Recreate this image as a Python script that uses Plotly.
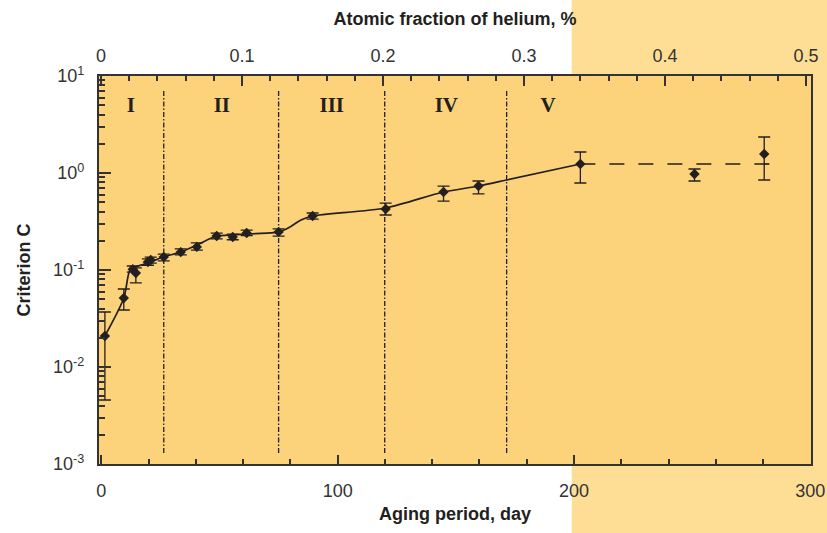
import plotly.graph_objects as go

# Measured criterion C versus aging period
days = [1.5, 9.5, 13.3, 14.6, 19.7, 20.9, 26.4, 33.6, 40.4, 48.8, 55.6, 61.5,
        75.0, 89.4, 120.3, 144.8, 159.6, 202.7, 251.0, 280.5]
crit_c = [0.0209, 0.0514, 0.102, 0.093, 0.121, 0.127, 0.136, 0.153, 0.173, 0.224,
          0.219, 0.241, 0.247, 0.360, 0.425, 0.637, 0.734, 1.238, 0.976, 1.57]
err_hi = [0.0369, 0.0637, 0.110, 0.105, 0.130, 0.136, 0.146, 0.165, 0.190, 0.240,
          0.234, 0.258, 0.265, 0.387, 0.490, 0.734, 0.827, 1.646, 1.10, 2.35]
err_lo = [0.00457, 0.0387, 0.095, 0.0735, 0.112, 0.118, 0.124, 0.143, 0.160, 0.209,
          0.205, 0.226, 0.224, 0.335, 0.369, 0.514, 0.608, 0.789, 0.827, 0.847]

# Smoothed trend through the data
fit_days = [1.5, 9.5, 12.1, 14.2, 19.7, 26.0, 33.6, 40.4, 48.8, 55.6, 61.5, 71.2,
            75.0, 80.0, 84.5, 89.4, 120.3, 144.8, 159.6, 171.5, 202.7]
fit_c = [0.0209, 0.0514, 0.100, 0.107, 0.118, 0.136, 0.153, 0.181, 0.224, 0.230,
         0.235, 0.241, 0.247, 0.280, 0.328, 0.360, 0.436, 0.637, 0.734, 0.847, 1.238]

# Saturation level
plateau_days = [202.7, 285.6]
plateau_c = [1.238, 1.238]

# Stage boundaries and labels
stage_bounds = [26.4, 75.0, 119.9, 171.5]
stage_labels = ["I", "II", "III", "IV", "V"]
stage_label_days = [12.5, 51.0, 97.5, 146.0, 189.0]
stage_label_c = 4.8

x_ticks = [0, 100, 200, 300]
he_ticks = [0, 0.1, 0.2, 0.3, 0.4, 0.5]
he_tick_text = ["0", "0.1", "0.2", "0.3", "0.4", "0.5"]
y_ticks = [1e-3, 1e-2, 1e-1, 1, 10]
y_tick_text = ["10<sup>-3</sup>", "10<sup>-2</sup>", "10<sup>-1</sup>",
               "10<sup>0</sup>", "10<sup>1</sup>"]
y_minor = [m * 10.0 ** e for e in range(-3, 1) for m in range(2, 10)]

INK = "#231f20"
AXIS = "#333333"
PLOT_BG = "#fcd27a"
BAND = "#fedd95"
FONT = "Liberation Sans, Arial, sans-serif"

fig = go.Figure()

for b in stage_bounds:
    fig.add_trace(go.Scatter(
        x=[b, b], y=[7.0, 0.00124], mode="lines",
        line=dict(color=INK, width=1.3, dash="5px,2px,1.5px,2px"),
        hoverinfo="skip", showlegend=False))

fig.add_trace(go.Scatter(
    x=fit_days, y=fit_c, mode="lines",
    line=dict(color=INK, width=1.7, shape="spline", smoothing=0.8),
    showlegend=False))

fig.add_trace(go.Scatter(
    x=plateau_days, y=plateau_c, mode="lines",
    line=dict(color=INK, width=1.7, dash="15px,14px"),
    showlegend=False))

fig.add_trace(go.Scatter(
    x=days, y=crit_c, mode="markers",
    marker=dict(symbol="diamond", size=8, color=INK),
    error_y=dict(type="data", symmetric=False,
                 array=[h - v for h, v in zip(err_hi, crit_c)],
                 arrayminus=[v - l for v, l in zip(crit_c, err_lo)],
                 color=INK, thickness=1.3, width=6),
    showlegend=False))

fig.add_trace(go.Scatter(
    x=stage_label_days, y=[stage_label_c] * len(stage_labels),
    mode="text", text=[f"<b>{s}</b>" for s in stage_labels],
    textfont=dict(family="Liberation Serif, Times New Roman, serif",
                  size=21, color=INK),
    textposition="middle center", showlegend=False))

# Invisible trace that carries the top (helium fraction) axis
fig.add_trace(go.Scatter(x=[0, 0.5], y=[1, 1], xaxis="x2", mode="markers",
                         marker=dict(opacity=0), hoverinfo="skip", showlegend=False))

# Light band behind the later aging range, then the plot area on top of it
fig.add_shape(type="rect", xref="paper", yref="paper",
              x0=0.664, x1=1.1, y0=-0.3, y1=1.3,
              fillcolor=BAND, line_width=0, layer="below")
fig.add_shape(type="rect", xref="paper", yref="paper",
              x0=0, x1=1, y0=0, y1=1,
              fillcolor=PLOT_BG, line_width=0, layer="below")

tick_font = dict(family=FONT, size=18, color=AXIS)
title_font = dict(family=FONT, size=18, color=INK)

fig.update_layout(
    width=827, height=533,
    margin=dict(l=99, r=16, t=76, b=69, autoexpand=False),
    paper_bgcolor="white", plot_bgcolor=PLOT_BG,
    xaxis=dict(
        range=[-1, 300.3], tickvals=x_ticks, ticks="inside", ticklen=9,
        tickwidth=1.5, tickcolor=AXIS, showline=True, linewidth=2.2,
        linecolor=AXIS, mirror=False, showgrid=False, zeroline=False,
        tickfont=tick_font, automargin=False, ticklabelstandoff=9,
        minor=dict(ticks="inside", ticklen=5, dtick=20, tick0=0,
                   tickwidth=1.5, tickcolor=AXIS, showgrid=False),
        title=dict(text="<b>Aging period, day</b>", font=title_font, standoff=8)),
    xaxis2=dict(
        overlaying="x", side="top", anchor="y",
        range=[-0.0014, 0.5035], tickvals=he_ticks, ticktext=he_tick_text,
        ticks="inside", ticklen=10, tickwidth=1.5, tickcolor=AXIS,
        showline=True, linewidth=2.2, linecolor=AXIS, automargin=False,
        showgrid=False, zeroline=False, tickfont=tick_font, ticklabelstandoff=5,
        minor=dict(ticks="inside", ticklen=5, dtick=0.02, tick0=0,
                   tickwidth=1.5, tickcolor=AXIS, showgrid=False),
        title=dict(text="<b>Atomic fraction of helium, %</b>", font=title_font,
                   standoff=15)),
    yaxis=dict(
        type="log", range=[-3, 1], tickvals=y_ticks, ticktext=y_tick_text,
        ticks="inside", ticklen=12, tickwidth=1.5, tickcolor=AXIS,
        showline=True, linewidth=2.2, linecolor=AXIS, mirror=True,
        showgrid=False, zeroline=False, tickfont=tick_font, automargin=False,
        ticklabelstandoff=9,
        minor=dict(ticks="inside", ticklen=6, tickvals=y_minor,
                   tickwidth=1.5, tickcolor=AXIS, showgrid=False),
        title=dict(text="<b>Criterion C</b>", font=title_font, standoff=18)),
)

fig.write_html("out.html")
